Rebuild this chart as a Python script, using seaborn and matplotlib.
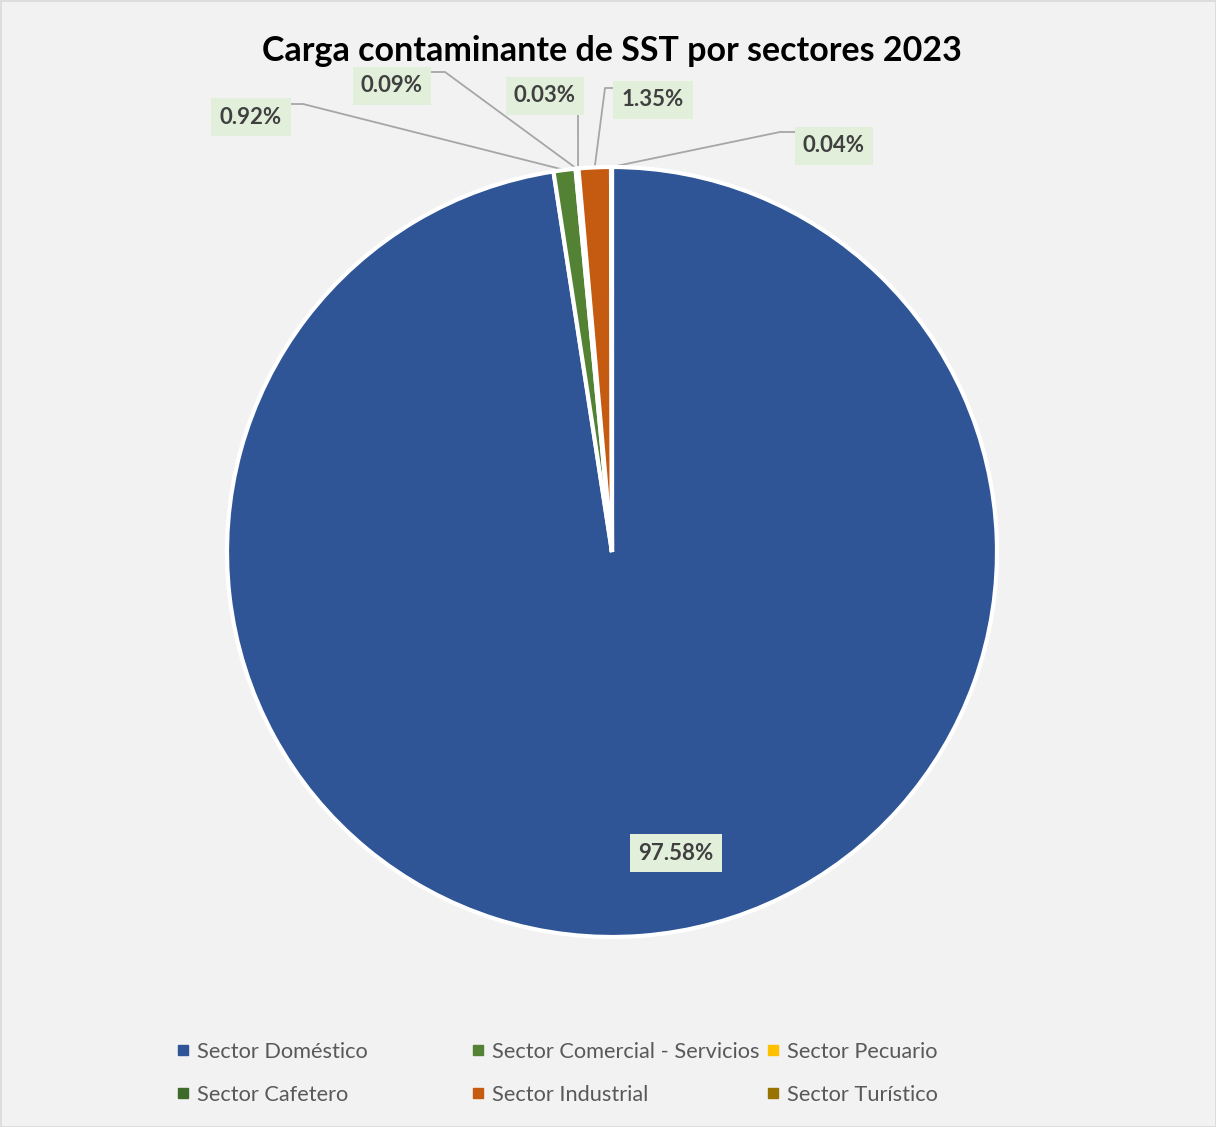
import numpy as np
import seaborn as sns
import matplotlib.pyplot as plt
from matplotlib.lines import Line2D
from matplotlib.patches import Rectangle

# Data
sectores = ["Sector Doméstico", "Sector Comercial - Servicios", "Sector Pecuario",
            "Sector Cafetero", "Sector Industrial", "Sector Turístico"]
porcentajes = [97.58, 0.92, 0.09, 0.03, 1.35, 0.04]
colores = ["#2F5597", "#548235", "#FFC000", "#3E6A2A", "#C55A11", "#997300"]
etiquetas = ["97.58%", "0.92%", "0.09%", "0.03%", "1.35%", "0.04%"]

sns.set_theme(style="white")
plt.rcParams["font.family"] = ["Lato", "DejaVu Sans"]

W, H = 1216, 1127
fig = plt.figure(figsize=(W / 100, H / 100), dpi=100, facecolor="#F2F2F2")
fig.patches.append(Rectangle((0.5 / W, 0.5 / H), 1 - 1 / W, 1 - 1 / H, transform=fig.transFigure,
                             fill=False, edgecolor="#D9D9D9", linewidth=1.2))

# pie centre (612, 552) px, radius 385 px
cx, cy, R = 612, 552, 385
lim = 1.2
ax = fig.add_axes([(cx - R * lim) / W, (H - cy - R * lim) / H, 2 * R * lim / W, 2 * R * lim / H])

wedges, _ = ax.pie(porcentajes, colors=sns.color_palette(colores), startangle=90, counterclock=False,
                   radius=1, wedgeprops=dict(edgecolor="white", linewidth=3))
ax.set_xlim(-lim, lim)
ax.set_ylim(-lim, lim)
ax.set_aspect("equal")
ax.axis("off")


def px(x, y):
    return (x - cx) / R, (cy - y) / R


box = dict(boxstyle="square,pad=0.38", facecolor="#E2EFDA", edgecolor="none")
lab_kw = dict(fontsize=16, fontweight="bold", color="#404040", ha="center", va="center", bbox=box)

# big slice label
ax.text(*px(676, 853), etiquetas[0], **lab_kw)

# small slices: label centre, leader start, stub end
leaders = {
    1: ((251, 117), (290, 104), (303, 104)),
    2: ((392, 86), (430, 72), (445, 72)),
    3: ((545, 96), (578, 113), (578, 113)),
    4: ((653, 100), (615, 88), (605, 88)),
    5: ((834, 146), (796, 132), (780, 132)),
}
total = sum(porcentajes)
cum = np.cumsum([0] + porcentajes)
for i, (c, a, b) in leaders.items():
    ang = np.deg2rad(90 - 360 * (cum[i] + porcentajes[i] / 2) / total)
    tip = (np.cos(ang), np.sin(ang))
    p1, p2 = px(*a), px(*b)
    ax.plot([p1[0], p2[0], tip[0]], [p1[1], p2[1], tip[1]], color="#A6A6A6", lw=1.3, zorder=0.5,
            clip_on=False)
    ax.text(*px(*c), etiquetas[i], **lab_kw)

fig.text(cx / W, 1 - 51 / H, "Carga contaminante de SST por sectores 2023", ha="center", va="center",
         fontsize=24.5, fontweight="bold", color="black")

# legend: 3 columns x 2 rows
cols = [(0, 3), (1, 4), (2, 5)]
xs = [176, 471, 766]
for (i, j), x in zip(cols, xs):
    handles = [Line2D([], [], marker="s", linestyle="none", markersize=6.5, color=colores[k])
               for k in (i, j)]
    fig.legend(handles, [sectores[i], sectores[j]], loc="upper left",
               bbox_to_anchor=(x / W, 1 - 1042 / H), frameon=False, fontsize=15.7,
               labelcolor="#595959", handlelength=0.6, handletextpad=0.35, labelspacing=1.04,
               borderpad=0, borderaxespad=0)

fig.savefig("out.png", dpi=100, facecolor=fig.get_facecolor())
